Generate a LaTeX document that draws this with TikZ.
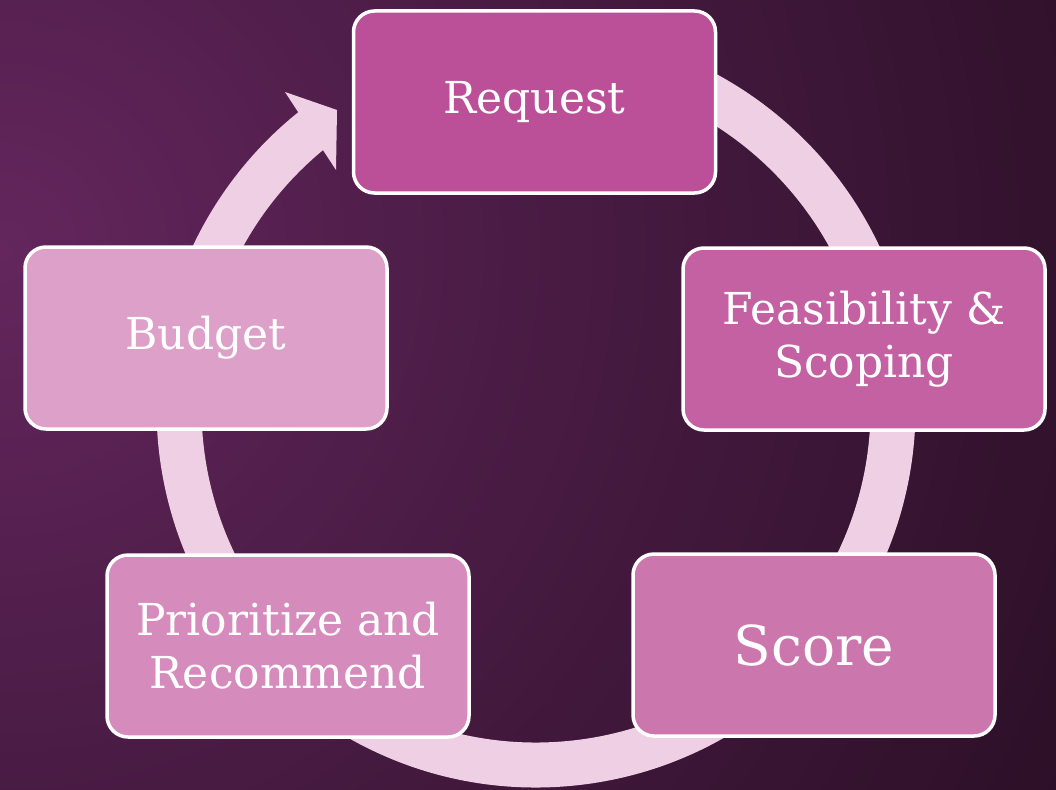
\documentclass[tikz,border=0pt]{standalone}
\usepackage{fontspec}
\setmainfont{DejaVu Serif}

% background tones, from the lit left edge to the dark corners
\definecolor{bgA}{RGB}{100,38,93}
\definecolor{bgB}{RGB}{74,28,69}
\definecolor{bgC}{RGB}{46,16,41}
\definecolor{bgD}{RGB}{28,9,25}
% ring and stage fills
\definecolor{ringpink}{RGB}{238,207,227}
\definecolor{reqfill}{RGB}{187,80,152}
\definecolor{feasfill}{RGB}{195,97,162}
\definecolor{scorefill}{RGB}{204,118,174}
\definecolor{priofill}{RGB}{213,139,187}
\definecolor{budgetfill}{RGB}{221,161,201}

\pgfdeclareradialshading{bglight}{\pgfpoint{0bp}{0bp}}{%
  color(0bp)=(bgA); color(8bp)=(bgB); color(18bp)=(bgC);
  color(30bp)=(bgD); color(50bp)=(bgD)}

\begin{document}
\begin{tikzpicture}[x=1pt,y=-1pt,
  stagebox/.style={draw=white, line width=3.5pt, rounded corners=21pt,
    minimum width=362pt, minimum height=182pt, inner sep=0pt,
    text=white, align=center, font=\fontsize{44}{53}\selectfont},
  ring/.style={draw=ringpink, line width=45pt},
  ringhead/.style={fill=ringpink}]

\useasboundingbox (0,0) rectangle (1056,789);

% lit backdrop
\begin{scope}
  \clip (0,0) rectangle (1056,789);
  \shade[shading=bglight] (0,250) circle[radius=1600];
\end{scope}

% cycle ring with its head pointing at the first stage
\coordinate (hub) at (536,408);
\draw[ring] ([shift={(-95:357)}]hub) arc[start angle=-95, end angle=231.5, radius=357];
\coordinate (barbout) at (285,92);
\coordinate (tip) at (337,110);
\coordinate (barbin) at (336,170);
\fill[ringhead] (barbout) -- (tip) -- (barbin) -- cycle;

% stages
\node[stagebox, fill=reqfill] (request) at (534.5,102) {Request};
\node[stagebox, fill=feasfill] (feas) at (864,339) {Feasibility \&\\Scoping};
\node[stagebox, fill=scorefill, font=\fontsize{55}{66}\selectfont] (score) at (814,645) {Score};
\node[stagebox, fill=priofill] (prio) at (288,646) {Prioritize and\\Recommend};
\node[stagebox, fill=budgetfill] (budget) at (206,338) {Budget};

\end{tikzpicture}
\end{document}
